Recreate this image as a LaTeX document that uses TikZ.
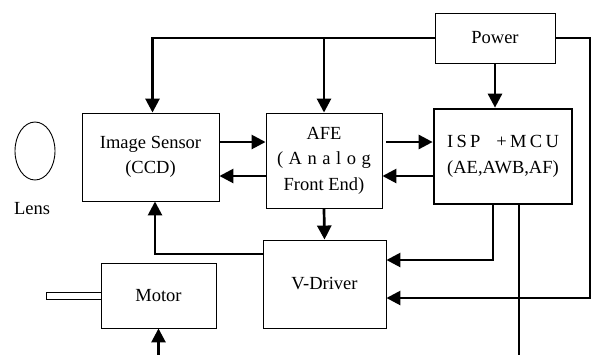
\documentclass[tikz,border=0pt]{standalone}
\usepackage{fontspec}
\setmainfont{Liberation Serif}
\newfontfamily\spacedfont[LetterSpace=30]{Liberation Serif}
\newfontfamily\widefont[LetterSpace=18]{Liberation Serif}
\usetikzlibrary{arrows.meta, shapes.geometric}

\begin{document}
\begin{tikzpicture}[x=1pt, y=-1pt, line join=miter,
    font=\fontsize{18.5}{25.5}\selectfont,
    block/.style={draw, line width=0.9pt, align=center, inner sep=0pt},
    conn/.style={line width=2.7pt},
    arr/.style={conn, -{Triangle[length=14pt, width=14pt]}}]

    % page frame taken from the scanned figure (594 x 354)
    \useasboundingbox (0, 0) rectangle (594, 354);

    % Blocks, centres and sizes
    \node[block, minimum width=137pt, minimum height=88pt] (sensor) at (150.5, 157) {Image Sensor\\(CCD)};
    \node[block, minimum width=116pt, minimum height=95pt] (afe) at (324, 160.5) {AFE\\{\spacedfont(Analog}\\Front End)};
    \node[block, line width=2.7pt, minimum width=138pt, minimum height=95pt] (isp) at (503, 156.5) {{\widefont ISP\ \ +MCU}\\(AE,AWB,AF)};
    \node[block, minimum width=120pt, minimum height=50pt] (power) at (495, 38) {Power};
    \node[block, minimum width=123pt, minimum height=88pt] (vdrv) at (324.5, 284) {V-Driver};
    \node[block, minimum width=115pt, minimum height=65pt] (motor) at (158.5, 295.5) {Motor};

    % Lens
    \node[draw, ellipse, line width=0.9pt, minimum width=40pt, minimum height=58pt] (lens) at (35, 151) {};
    \node (lenslabel) at (32, 209) {Lens};

    % Motor shaft (open towards the motor)
    \draw[line width=0.9pt] ([yshift=3.5pt]motor.west) -- ++(-54, 0) -- ++(0, 7) -- ++(54, 0);

    % Power supply lines
    \draw[arr] (power.west) -| ([xshift=2pt]sensor.north);
    \draw[arr] (afe.north |- power.west) -- (afe.north);
    \draw[arr] (power.south) -- (power.south |- isp.north);
    \coordinate (pcorner) at (590, 298);
    \draw[arr] (power.east) -| (pcorner) -- (pcorner -| vdrv.east);

    % Signal path sensor <-> AFE <-> ISP
    \draw[arr] ([yshift=15pt]sensor.east) coordinate (s1) -- (s1 -| afe.west);
    \draw[arr] ([yshift=-15.5pt]afe.west) coordinate (a1) -- (a1 -| sensor.east);
    \draw[arr] ([yshift=18.5pt, xshift=4pt]afe.east) coordinate (a2) -- (a2 -| isp.west);
    \draw[arr] ([yshift=-19.5pt]isp.west) coordinate (i1) -- (i1 -| afe.east);

    % Timing / drive
    \draw[arr] (afe.south) -- (vdrv.north);
    \draw[arr] ([yshift=30pt]vdrv.west) -| ([xshift=4.5pt]sensor.south);
    \draw[arr] ([xshift=-10pt]isp.south) |- ([yshift=24pt]vdrv.east);

    % Lines leaving / entering at the bottom
    \coordinate (ispout) at (519, 356);
    \draw[conn] ([xshift=16pt]isp.south) -- (ispout);
    \coordinate (motorin) at (158.5, 356);
    \draw[arr] (motorin) -- (motor.south);

\end{tikzpicture}
\end{document}
